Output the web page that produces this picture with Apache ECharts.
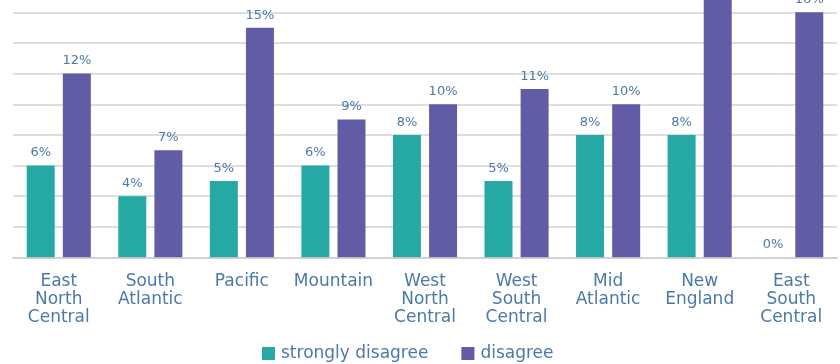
<!DOCTYPE html>
<html>
<head>
<meta charset="utf-8">
<script src="https://cdn.jsdelivr.net/npm/echarts@6/dist/echarts.min.js"></script>
<style>
html,body{margin:0;padding:0;background:#fff;overflow:hidden;width:840px;height:364px;}
#chart{width:840px;height:413px;position:absolute;left:0;top:-49px;}
</style>
</head>
<body>
<div id="chart"></div>
<script>
const categories = ["East North Central","South Atlantic","Pacific","Mountain","West North Central","West South Central","Mid Atlantic","New England","East South Central"];
const stronglyDisagree = [6, 4, 5, 6, 8, 5, 8, 8, 0];
const disagree = [12, 7, 15, 9, 10, 11, 10, 18, 16];
const seriesNames = ["strongly disagree", "disagree"];

const textColor = '#4B79A8';
const font = 'DejaVu Sans';
const chart = echarts.init(document.getElementById('chart'), null, {renderer:'canvas'});
const labelCfg = {
  show: true, position: 'top', distance: 6,
  color: textColor, fontFamily: font, fontSize: 13,
  formatter: p => p.value + '%'
};
chart.setOption({
  animation: false,
  backgroundColor: '#ffffff',
  grid: {left: 13, right: 3, top: 0, bottom: 106.5, containLabel: false},
  legend: {
    bottom: 2, left: 262, padding: 0,
    itemWidth: 13, itemHeight: 13, itemGap: 33,
    icon: 'rect',
    textStyle: {color: textColor, fontFamily: font, fontSize: 17, padding: [0,0,0,1]},
    data: seriesNames
  },
  xAxis: {
    type: 'category', data: categories, z: 5,
    axisTick: {show: false},
    axisLine: {show: true, lineStyle: {color: 'rgba(200,200,200,0.6)', width: 2}},
    axisLabel: {
      interval: 0, margin: 15, color: textColor, fontFamily: font, fontSize: 17, lineHeight: 18,
      formatter: v => v.split(' ').join('\n')
    }
  },
  yAxis: {
    type: 'value', min: 0, max: 20, interval: 2,
    axisLabel: {show: false}, axisLine: {show: false}, axisTick: {show: false},
    splitLine: {lineStyle: {color: '#dedede', width: 2}}
  },
  series: [
    {name: seriesNames[0], type: 'bar', data: stronglyDisagree, barWidth: 28, barGap: '29%',
     itemStyle: {color: '#26A9A5'}, label: labelCfg},
    {name: seriesNames[1], type: 'bar', data: disagree, barWidth: 28, barGap: '29%',
     itemStyle: {color: '#625CA6'}, label: labelCfg}
  ]
});
</script>
</body>
</html>
